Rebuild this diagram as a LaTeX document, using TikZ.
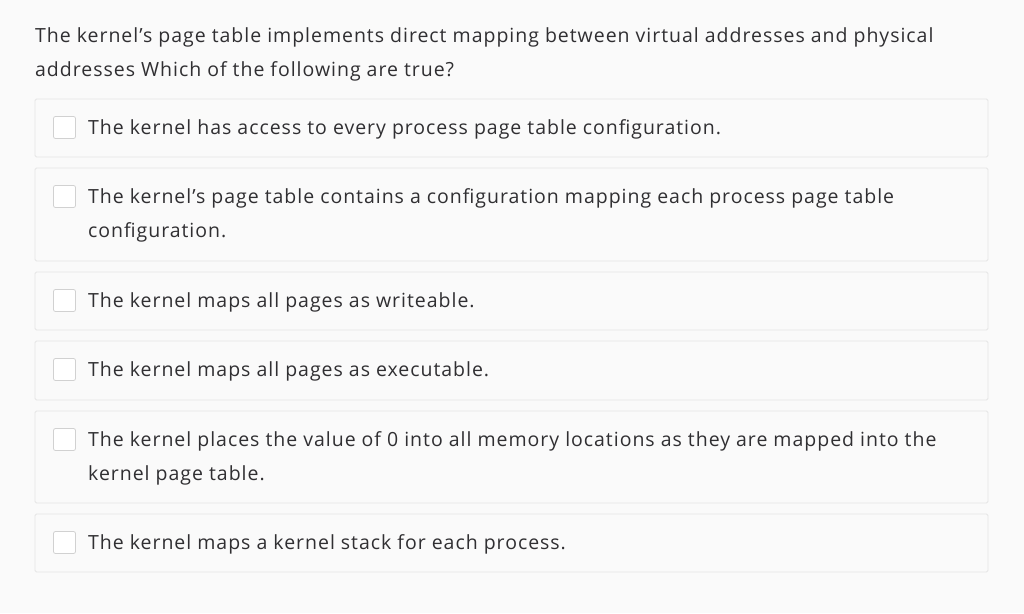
\documentclass[tikz,border=0pt]{standalone}
\usepackage{fontspec}
\setmainfont[LetterSpace=5]{Open Sans}
\begin{document}
\begin{tikzpicture}[x=1pt,y=-1pt,
  txt/.style={anchor=west,text=black!80!cyan!40!black,font=\fontsize{19.5}{34}\selectfont,align=left,inner sep=0pt},
  optbox/.style={draw=black!10,fill=black!2,rounded corners=1.5pt,line width=0.8pt},
  chk/.style={draw=black!18,fill=white,rounded corners=2pt,line width=0.8pt,minimum size=22pt,inner sep=0pt}]
\fill[black!2] (0,0) rectangle (1024,613);
\useasboundingbox (0,0) rectangle (1024,613);
\node[txt,anchor=north west] (q) at (35,27) {The kernel's page table implements direct mapping between virtual addresses and physical\\addresses Which of the following are true?};
\foreach \n/\a/\b/\t in {
 1/99/157/{The kernel has access to every process page table configuration.},
 2/168/261/{The kernel's page table contains a configuration mapping each process page table\\configuration.},
 3/272/330/{The kernel maps all pages as writeable.},
 4/341/400/{The kernel maps all pages as executable.},
 5/411/503/{The kernel places the value of 0 into all memory locations as they are mapped into the\\kernel page table.},
 6/514/572/{The kernel maps a kernel stack for each process.}}{
  \draw[optbox] (35,\a) rectangle (988,\b);
  \node[chk] (c\n) at (64.5,\a+28.5) {};
  \node[txt,anchor=north west] (t\n) at (88,\a+20) {\t};
}
\end{tikzpicture}
\end{document}
